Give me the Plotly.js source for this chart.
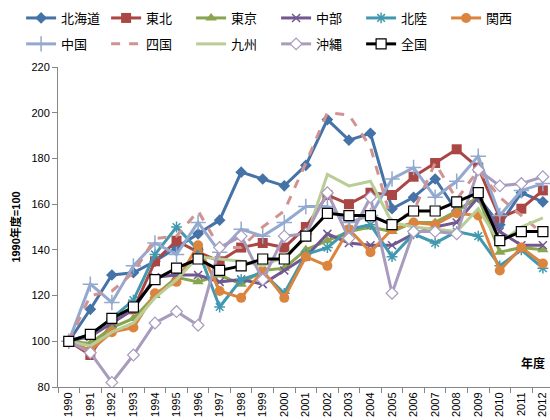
<!DOCTYPE html>
<html>
<head>
<meta charset="utf-8">
<script src="https://cdn.plot.ly/plotly-3.0.1.min.js"></script>
<style>html,body{margin:0;padding:0;background:#fff;}#chart{width:550px;height:420px;}</style>
</head>
<body>
<div id="chart"></div>
<script>
const years = ["1990","1991","1992","1993","1994","1995","1996","1997","1998","1999","2000","2001","2002","2003","2004","2005","2006","2007","2008","2009","2010","2011","2012"];
const hokkaido = [100,114,129,130,135,141,147,153,174,171,168,177,197,188,191,158,163,171,157,163,151,165,161];
const tohoku   = [100,94,108,114,135,144,139,135,141,143,141,150,164,160,165,164,172,178,184,176,154,158,166];
const tokyo    = [100,99,106,110,120,128,126,129,125,131,132,140,144,148,150,148,152,152,157,163,139,141,140];
const chubu    = [100,102,108,114,128,129,129,126,127,125,131,137,147,143,142,142,147,150,152,163,148,142,142];
const hokuriku = [100,103,110,118,138,150,140,115,127,130,121,138,141,149,151,137,147,143,148,146,133,140,132];
const kansai   = [100,96,104,106,121,126,142,122,119,131,119,137,133,149,139,149,152,151,156,155,131,141,134];
const chugoku  = [100,125,117,133,143,138,152,139,149,146,152,159,159,152,155,171,176,163,170,181,155,166,169];
const shikoku  = [100,120,122,130,145,146,157,141,141,150,157,178,200,199,185,152,157,178,162,175,163,155,147];
const kyushu   = [100,98,104,108,119,127,137,136,135,133,137,145,173,168,170,152,150,149,148,158,143,150,154];
const okinawa  = [100,95,82,94,108,113,107,141,146,127,146,147,165,145,163,121,148,148,147,175,168,169,172];
const zenkoku  = [100,103,110,115,127,132,136,131,133,136,136,146,156,155,155,151,157,157,161,165,144,148,148];

function tr(name, y, color, symbol, size, opts) {
  opts = opts || {};
  const t = {
    type: 'scatter', mode: symbol ? 'lines+markers' : 'lines', name: name, x: years, y: y,
    line: {color: color, width: 3, dash: opts.dash || 'solid'},
    legend: opts.legend || 'legend'
  };
  if (symbol) {
    t.marker = {symbol: symbol, size: size, color: opts.fill || color,
      line: {color: opts.mline || color, width: opts.mw != null ? opts.mw : 0}};
  }
  return t;
}

const data = [
  tr('北海道', hokkaido, '#4572A7', 'diamond', 9),
  tr('東北', tohoku, '#AA4643', 'square', 10),
  tr('東京', tokyo, '#89A54E', 'triangle-up', 10),
  tr('中部', chubu, '#71588F', 'x-thin-open', 8, {mw: 1.5}),
  tr('北陸', hokuriku, '#4198AF', 'asterisk-open', 9, {mw: 1.5}),
  tr('関西', kansai, '#DB843D', 'circle', 10),
  tr('中国', chugoku, '#93A9CF', 'cross-thin-open', 11, {mw: 1.5, legend: 'legend2'}),
  tr('四国', shikoku, '#D19392', null, 0, {dash: 'dash', legend: 'legend2'}),
  tr('九州', kyushu, '#B9CD96', null, 0, {legend: 'legend2'}),
  tr('沖縄', okinawa, '#A99BBD', 'diamond', 9, {fill: '#ffffff', mline: '#A99BBD', mw: 1.2, legend: 'legend2'}),
  tr('全国', zenkoku, '#000000', 'square', 10, {fill: '#ffffff', mline: '#000000', mw: 1.2, legend: 'legend2'})
];

const font = 'Liberation Sans, Arial, Noto Sans CJK JP, sans-serif';
const legendBase = {orientation: 'h', x: -0.075, xanchor: 'left', yanchor: 'top',
    entrywidth: 40, entrywidthmode: 'pixels', itemwidth: 30, tracegroupgap: 0,
    font: {family: font, size: 13, color: '#000'}, bgcolor: 'rgba(0,0,0,0)'};
const layout = {
  width: 550, height: 420,
  margin: {l: 58, r: 0, t: 67, b: 33},
  paper_bgcolor: '#ffffff', plot_bgcolor: '#ffffff',
  font: {family: font, size: 11, color: '#000'},
  showlegend: true,
  legend: Object.assign({}, legendBase, {y: 1.2}),
  legend2: Object.assign({}, legendBase, {y: 1.119}),
  xaxis: {type: 'category', range: [-0.5, 22.33], showgrid: false, zeroline: false,
    showline: true, linecolor: '#868686', linewidth: 1, ticks: 'outside', ticklen: 5,
    tickcolor: '#868686', tickson: 'boundaries', tickangle: -90,
    tickfont: {family: font, size: 11, color: '#000'}},
  yaxis: {range: [80, 220], dtick: 20, showgrid: false, zeroline: false,
    showline: true, linecolor: '#868686', linewidth: 1, ticks: 'outside', ticklen: 5,
    tickcolor: '#868686', tickfont: {family: font, size: 11, color: '#000'},
    title: {text: '<b>1990年度=100</b>', standoff: 8, font: {family: font, size: 11, color: '#000'}}},
  annotations: [{text: '<b>年度</b>', xref: 'paper', yref: 'paper', x: 0.965, y: 0.075,
    xanchor: 'center', yanchor: 'middle', showarrow: false, font: {family: font, size: 12, color: '#000'}}]
};

Plotly.newPlot('chart', data, layout, {displayModeBar: false, staticPlot: true});
</script>
</body>
</html>
